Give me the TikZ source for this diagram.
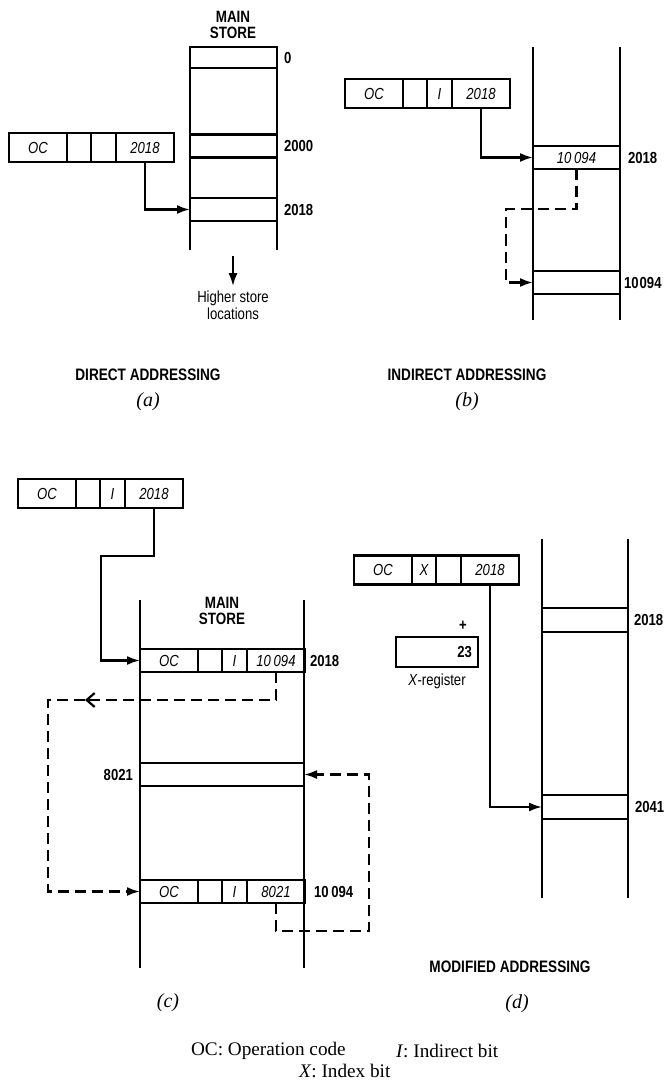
\documentclass[tikz,border=0pt]{standalone}
\usepackage{fontspec}
\setmainfont{Liberation Serif}
\newfontfamily\figsans[FakeStretch=0.82]{Liberation Sans}
\usetikzlibrary{positioning,arrows.meta}
\tikzset{
  cell/.style={draw, minimum height=29pt, inner sep=0pt, outer sep=0pt,
    font=\figsans\itshape\fontsize{16}{18}\selectfont},
  opcell/.style={cell, minimum width=58pt},
  xcell/.style={cell, minimum width=24pt},
  icell/.style={cell, minimum width=25pt},
  adcell/.style={cell, minimum width=58pt},
  row/.style={cell, minimum width=87pt, minimum height=23pt},
  addr/.style={inner sep=1pt, font=\figsans\bfseries\fontsize{16}{18}\selectfont},
  title/.style={align=center, font=\figsans\bfseries\fontsize{16.4}{16}\selectfont},
  caption/.style={font=\figsans\bfseries\fontsize{16.6}{18}\selectfont},
  sublabel/.style={font=\itshape\fontsize{20}{22}\selectfont},
  legend/.style={inner sep=0pt, anchor=west, font=\fontsize{19.2}{22}\selectfont},
  ptr/.style={-{Latex[length=13pt,width=9pt]}},
  indir/.style={dash pattern=on 11pt off 6pt},
}
\begin{document}
\begin{tikzpicture}[x=1pt,y=-1pt,line width=2.2pt]
  \useasboundingbox (0,0) rectangle (664,1083);
  % (a) direct addressing
  \node[title] (amain) at (233,25) {MAIN\\STORE};
  \draw (190,47) -- (190,250) (277,47) -- (277,250);
  \node[row, minimum height=21pt] (a0) at (233.5,57.5) {};
  \node[row] (a2000) at (233.5,146) {};
  \node[row] (a2018) at (233.5,209.5) {};
  \node[addr, right=5pt of a0] (a0l) {0};
  \node[addr, right=5pt of a2000] (a2000l) {2000};
  \node[addr, right=5pt of a2018] (a2018l) {2018};
  \node[opcell, anchor=west] (aoc) at (9,147.5) {OC};
  \node[xcell, right=0pt of aoc] (ax) {};
  \node[icell, right=0pt of ax] (ai) {};
  \node[adcell, right=0pt of ai] (aad) {2018};
  \draw[ptr] (aad.south) |- (a2018.west);
  \coordinate (abot) at (233,256);
  \node[align=center, font=\figsans\fontsize{16}{17}\selectfont] (ahigh) at (233,305)
    {Higher store\\locations};
  \draw[ptr] (abot) -- (ahigh);
  \node[caption] (acap) at (148,375) {DIRECT ADDRESSING};
  \node[sublabel] (asub) at (148,402) {(a)};

  % (b) indirect addressing
  \draw (533,47) -- (533,320) (620,47) -- (620,320);
  \node[row] (b2018) at (576.5,157.5) {10\,094};
  \node[row] (b10094) at (576.5,282.5) {};
  \node[addr, right=6pt of b2018] (b2018l) {2018};
  \node[addr, right=2pt of b10094] (b10094l) {10\hspace{1pt}094};
  \node[opcell, anchor=west] (boc) at (345,93.5) {OC};
  \node[xcell, right=0pt of boc] (bx) {};
  \node[icell, right=0pt of bx] (bi) {I};
  \node[adcell, right=0pt of bi] (bad) {2018};
  \draw[ptr] (bad.south) |- (b2018.west);
  \coordinate (bturn) at (506,209);
  \draw[ptr, indir] (b2018.south) |- (bturn) |- (b10094.west);
  \node[caption] (bcap) at (467,375) {INDIRECT ADDRESSING};
  \node[sublabel] (bsub) at (467,402) {(b)};

  % (c) indirect addressing via main store
  \node[opcell, anchor=west] (coc) at (18,493.5) {OC};
  \node[xcell, right=0pt of coc] (cx) {};
  \node[icell, right=0pt of cx] (ci) {I};
  \node[adcell, right=0pt of ci] (cad) {2018};
  \node[title] (cmain) at (222,611) {MAIN\\STORE};
  \draw (140,600) -- (140,968) (304,600) -- (304,968);
  \node[opcell, minimum height=23pt, anchor=west] (c1oc) at (140,660.5) {OC};
  \node[xcell, minimum height=23pt, right=0pt of c1oc] (c1x) {};
  \node[icell, minimum height=23pt, right=0pt of c1x] (c1i) {I};
  \node[adcell, minimum height=23pt, right=0pt of c1i] (c1ad) {10\,094};
  \node[row, minimum width=164pt] (c8021) at (222,774.5) {};
  \node[opcell, minimum height=23pt, anchor=west] (c2oc) at (140,891.5) {OC};
  \node[xcell, minimum height=23pt, right=0pt of c2oc] (c2x) {};
  \node[icell, minimum height=23pt, right=0pt of c2x] (c2i) {I};
  \node[adcell, minimum height=23pt, right=0pt of c2i] (c2ad) {8021};
  \node[addr, right=3pt of c1ad] (c2018l) {2018};
  \node[addr, left=5pt of c8021] (c8021l) {8021};
  \node[addr, right=7pt of c2ad] (c10094l) {10\,094};
  \coordinate (cturn) at (101,556);
  \draw[ptr] (cad.south) |- (cturn) |- (c1oc.west);
  \coordinate (cback) at (85,700);
  \coordinate (cleft) at (48,700);
  \draw[indir, -{Straight Barb[length=8pt,width=14pt]}] (c1ad.south) |- (cback);
  \draw[ptr, indir] (cback) -- (cleft) |- (c2oc.west);
  \coordinate (cdown) at (369,931);
  \draw[ptr, indir] (c2ad.south) |- (cdown) |- (c8021.east);
  \node[sublabel] (csub) at (168,1003) {(c)};

  % (d) modified addressing
  \node[opcell, anchor=west] (doc) at (354,570) {OC};
  \node[xcell, right=0pt of doc] (dx) {X};
  \node[icell, right=0pt of dx] (di) {};
  \node[adcell, right=0pt of di] (dad) {2018};
  \draw (542,539) -- (542,898) (628,539) -- (628,898);
  \node[row, minimum width=86pt, minimum height=24pt] (d2018) at (585,620) {};
  \node[row, minimum width=86pt, minimum height=24pt] (d2041) at (585,807) {};
  \node[addr, right=4pt of d2018] (d2018l) {2018};
  \node[addr, right=5pt of d2041] (d2041l) {2041};
  \node[addr] (dplus) at (463,626) {+};
  \node[draw, inner sep=6pt, outer sep=0pt, text width=70pt, minimum height=30pt, align=right,
    font=\figsans\bfseries\fontsize{16}{18}\selectfont] (dxreg) at (437,652) {23};
  \node[below=2pt of dxreg, font=\figsans\fontsize{16}{18}\selectfont] (dxregl)
    {\textit{X}-register};
  \draw[ptr] (dad.south) |- (d2041.west);
  \node[caption] (dcap) at (510,967) {MODIFIED ADDRESSING};
  \node[sublabel] (dsub) at (517,1004) {(d)};

  % legend
  \node[legend] (legoc) at (190,1051) {OC: Operation code};
  \node[legend] (legi) at (395,1051) {\textit{I}: Indirect bit};
  \node[legend] (legx) at (298,1071) {\textit{X}: Index bit};
\end{tikzpicture}
\end{document}
